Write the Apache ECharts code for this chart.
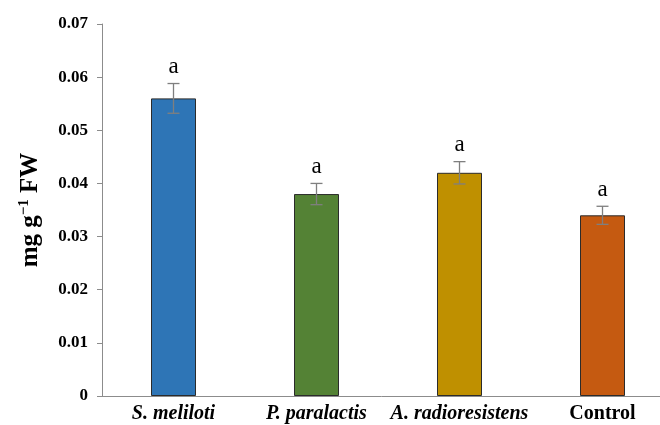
<!DOCTYPE html>
<html>
<head>
<meta charset="utf-8">
<script src="https://cdn.jsdelivr.net/npm/echarts@6/dist/echarts.min.js"></script>
<style>
  html, body { margin: 0; padding: 0; background: #fff; }
  #chart { width: 660px; height: 425px; }
</style>
</head>
<body>
<div id="chart"></div>
<script>
// Treatments and measured content (mg g-1 FW) with standard errors
const categories = ['S. meliloti', 'P. paralactis', 'A. radioresistens', 'Control'];
const values = [0.056, 0.038, 0.042, 0.034];
const errors = [0.0028, 0.0020, 0.0021, 0.0017];
const letters = ['a', 'a', 'a', 'a'];
const colors = ['#2e75b6', '#548235', '#bf9000', '#c55a11'];
const yTicks = [0, 0.01, 0.02, 0.03, 0.04, 0.05, 0.06, 0.07];

const chart = echarts.init(document.getElementById('chart'));

const errData = values.map((v, i) => [i, v - errors[i], v + errors[i], letters[i]]);

chart.setOption({
  animation: false,
  // plot area runs past the right edge of the canvas, so the last band is clipped
  grid: { left: 102, top: 24, width: 572, bottom: 29, containLabel: false, outerBoundsMode: 'none' },
  xAxis: {
    type: 'category',
    data: categories,
    axisLine: { lineStyle: { color: '#8c8c8c', width: 1 } },
    axisTick: { show: false },
    axisLabel: {
      margin: 8,
      formatter: function (v) {
        return v === 'Control' ? '{b|' + v + '}' : '{i|' + v + '}';
      },
      rich: {
        i: { fontFamily: 'Liberation Serif', fontStyle: 'italic', fontWeight: 'bold', fontSize: 20, color: '#000' },
        b: { fontFamily: 'Liberation Serif', fontWeight: 'bold', fontSize: 20, color: '#000' }
      }
    }
  },
  yAxis: {
    type: 'value',
    min: yTicks[0],
    max: yTicks[yTicks.length - 1],
    interval: 0.01,
    splitLine: { show: false },
    axisLine: { show: true, lineStyle: { color: '#8c8c8c', width: 1 } },
    axisTick: { show: true, length: 5, lineStyle: { color: '#8c8c8c' } },
    axisLabel: {
      margin: 14,
      fontFamily: 'Liberation Serif',
      fontWeight: 'bold',
      fontSize: 17,
      color: '#000',
      formatter: function (v) { return v === 0 ? '0' : v.toFixed(2); }
    },
    name: '{m|mg g}{s|−1}{m| FW}',
    nameLocation: 'middle',
    nameGap: 57,
    nameRotate: 90,
    nameTextStyle: {
      rich: {
        m: { fontFamily: 'Liberation Serif', fontWeight: 'bold', fontSize: 25, color: '#000' },
        s: { fontFamily: 'Liberation Serif', fontWeight: 'bold', fontSize: 15, color: '#000', verticalAlign: 'top', padding: [0, 0, 13, 0] }
      }
    }
  },
  series: [
    {
      type: 'bar',
      barWidth: 45,
      data: values.map((v, i) => ({
        value: v,
        itemStyle: { color: colors[i], borderColor: '#2b2b2b', borderWidth: 1 }
      }))
    },
    {
      type: 'custom',
      data: errData,
      z: 10,
      renderItem: function (params, api) {
        const x = api.value(0);
        const lo = api.coord([x, api.value(1)]);
        const hi = api.coord([x, api.value(2)]);
        const cap = 6;
        const style = { stroke: '#7f7f7f', lineWidth: 1.3 };
        return {
          type: 'group',
          children: [
            { type: 'line', shape: { x1: lo[0], y1: lo[1], x2: hi[0], y2: hi[1] }, style: style },
            { type: 'line', shape: { x1: lo[0] - cap, y1: lo[1], x2: lo[0] + cap, y2: lo[1] }, style: style },
            { type: 'line', shape: { x1: hi[0] - cap, y1: hi[1], x2: hi[0] + cap, y2: hi[1] }, style: style },
            {
              type: 'text',
              style: {
                text: api.value(3),
                x: hi[0],
                y: hi[1] - 5,
                align: 'center',
                verticalAlign: 'bottom',
                fontFamily: 'Liberation Serif',
                fontSize: 23,
                fill: '#000'
              }
            }
          ]
        };
      }
    }
  ]
});
</script>
</body>
</html>
